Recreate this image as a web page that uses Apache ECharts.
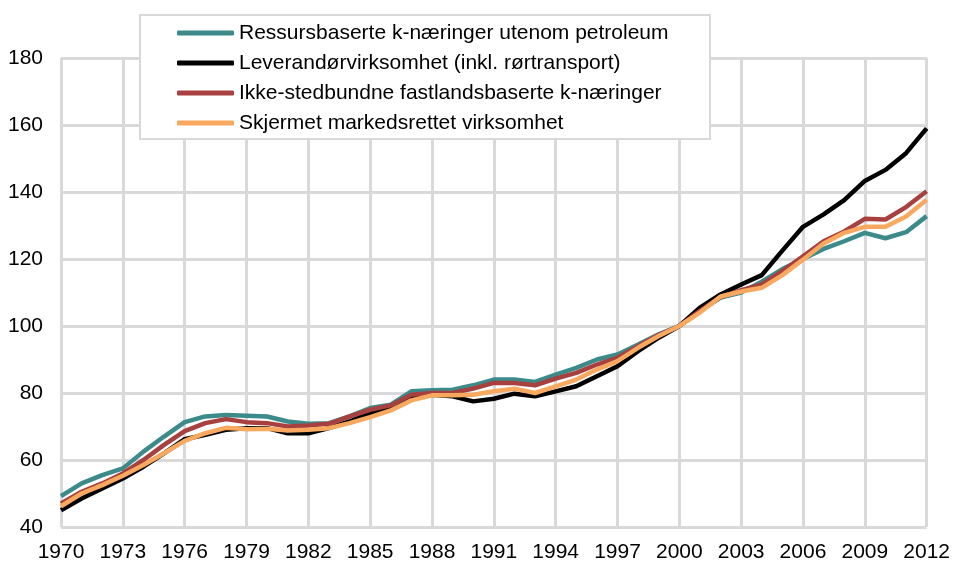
<!DOCTYPE html>
<html>
<head>
<meta charset="utf-8">
<script src="https://cdn.jsdelivr.net/npm/echarts@6/dist/echarts.min.js"></script>
<style>
  html, body { margin: 0; padding: 0; background: #fff; }
  #chart { width: 953px; height: 563px; }
</style>
</head>
<body>
<div id="chart"></div>
<script>
const years = []
for (let y = 1970; y <= 2012; y++) years.push(y)

const seriesNames = [
  'Ressursbaserte k-næringer utenom petroleum',
  'Leverandørvirksomhet (inkl. rørtransport)',
  'Ikke-stedbundne fastlandsbaserte k-næringer',
  'Skjermet markedsrettet virksomhet'
]

const ressursbaserte = [
  49.2, 53, 55.5, 57.5, 62.5, 67, 71.3, 73, 73.4, 73.2,
  73, 71.5, 70.8, 71, 73, 75.5, 76.5, 80.5, 80.8, 81,
  82.3, 84, 84, 83.3, 85.5, 87.5, 90, 91.5, 94.5, 97.5,
  100, 104.5, 108.5, 110, 113.2, 117, 120, 123, 125.3, 127.8,
  126.2, 128, 132.8
]

const leverandor = [
  45, 48.5, 51.5, 54.5, 58, 62, 66.2, 67.5, 69, 69.5,
  69.5, 68, 68, 69.5, 71.5, 74, 76, 78.5, 79.5, 79,
  77.5, 78.3, 79.8, 79, 80.5, 82, 85, 88, 92.5, 96.5,
  100, 105.5, 109.4, 112.4, 115.2, 122.5, 129.6, 133.3, 137.6, 143.3,
  146.6, 151.6, 159
]

const ikkeStedbundne = [
  47, 50.5, 53, 56, 60, 64.5, 68.6, 71, 72.2, 71.3,
  71, 70, 70.3, 70.8, 73, 75, 76.3, 79.5, 80, 80,
  81.3, 83, 83, 82.3, 84.3, 86, 88.5, 90.5, 94, 97.3,
  100, 104.5, 108.6, 110.7, 112.4, 116.4, 120.8, 125.3, 128.2, 132,
  131.8, 135.5, 140.2
]

const skjermet = [
  46.2, 50, 52.5, 55.3, 58.5, 62, 65.7, 68, 69.6, 69.2,
  69.3, 68.8, 69, 69.5, 71, 72.8, 74.8, 77.8, 79.3, 79.3,
  79.5, 80.5, 81.3, 80, 82, 84, 87, 89.5, 93.5, 97,
  100, 104, 108.8, 110.3, 111.4, 115.2, 119.8, 124.6, 127.8, 129.6,
  129.6, 132.7, 137.7
]

const colors = ['#3d8a8a', '#000000', '#a8403f', '#f8a95f']
const values = [ressursbaserte, leverandor, ikkeStedbundne, skjermet]

const chart = echarts.init(document.getElementById('chart'))

const option = {
  animation: false,
  textStyle: { fontFamily: 'Liberation Sans, Arial, sans-serif' },
  grid: { left: 61, right: 24, top: 58, bottom: 35 },
  graphic: [{
    type: 'rect',
    z: 3,
    shape: { x: 140, y: 15, width: 570, height: 124 },
    style: { fill: '#fff', stroke: '#d9d9d9', lineWidth: 2 }
  }],
  legend: {
    orient: 'vertical',
    left: 172,
    top: 17,
    z: 4,
    itemWidth: 57,
    itemHeight: 5,
    itemGap: 8,
    icon: 'roundRect',
    textStyle: { fontSize: 21, color: '#000', lineHeight: 22, fontFamily: 'Liberation Sans, Arial, sans-serif' },
    data: seriesNames
  },
  xAxis: {
    type: 'value',
    min: 1970,
    max: 2012,
    interval: 3,
    axisLine: { show: false },
    axisTick: { show: false },
    axisLabel: {
      fontSize: 21,
      color: '#000',
      margin: 15,
      formatter: v => String(v)
    },
    splitLine: { show: true, lineStyle: { color: '#d9d9d9', width: 3 } }
  },
  yAxis: {
    type: 'value',
    min: 40,
    max: 180,
    interval: 20,
    axisLine: { show: false },
    axisTick: { show: false },
    axisLabel: { fontSize: 21, color: '#000', margin: 18 },
    splitLine: { show: true, lineStyle: { color: '#d9d9d9', width: 3 } }
  },
  series: seriesNames.map((name, i) => ({
    name: name,
    type: 'line',
    symbol: 'none',
    z: 2 + (i === 1 ? 0 : i),
    color: colors[i],
    lineStyle: { width: 4.5, color: colors[i] },
    data: years.map((y, j) => [y, values[i][j]])
  }))
}

chart.setOption(option)
</script>
</body>
</html>
